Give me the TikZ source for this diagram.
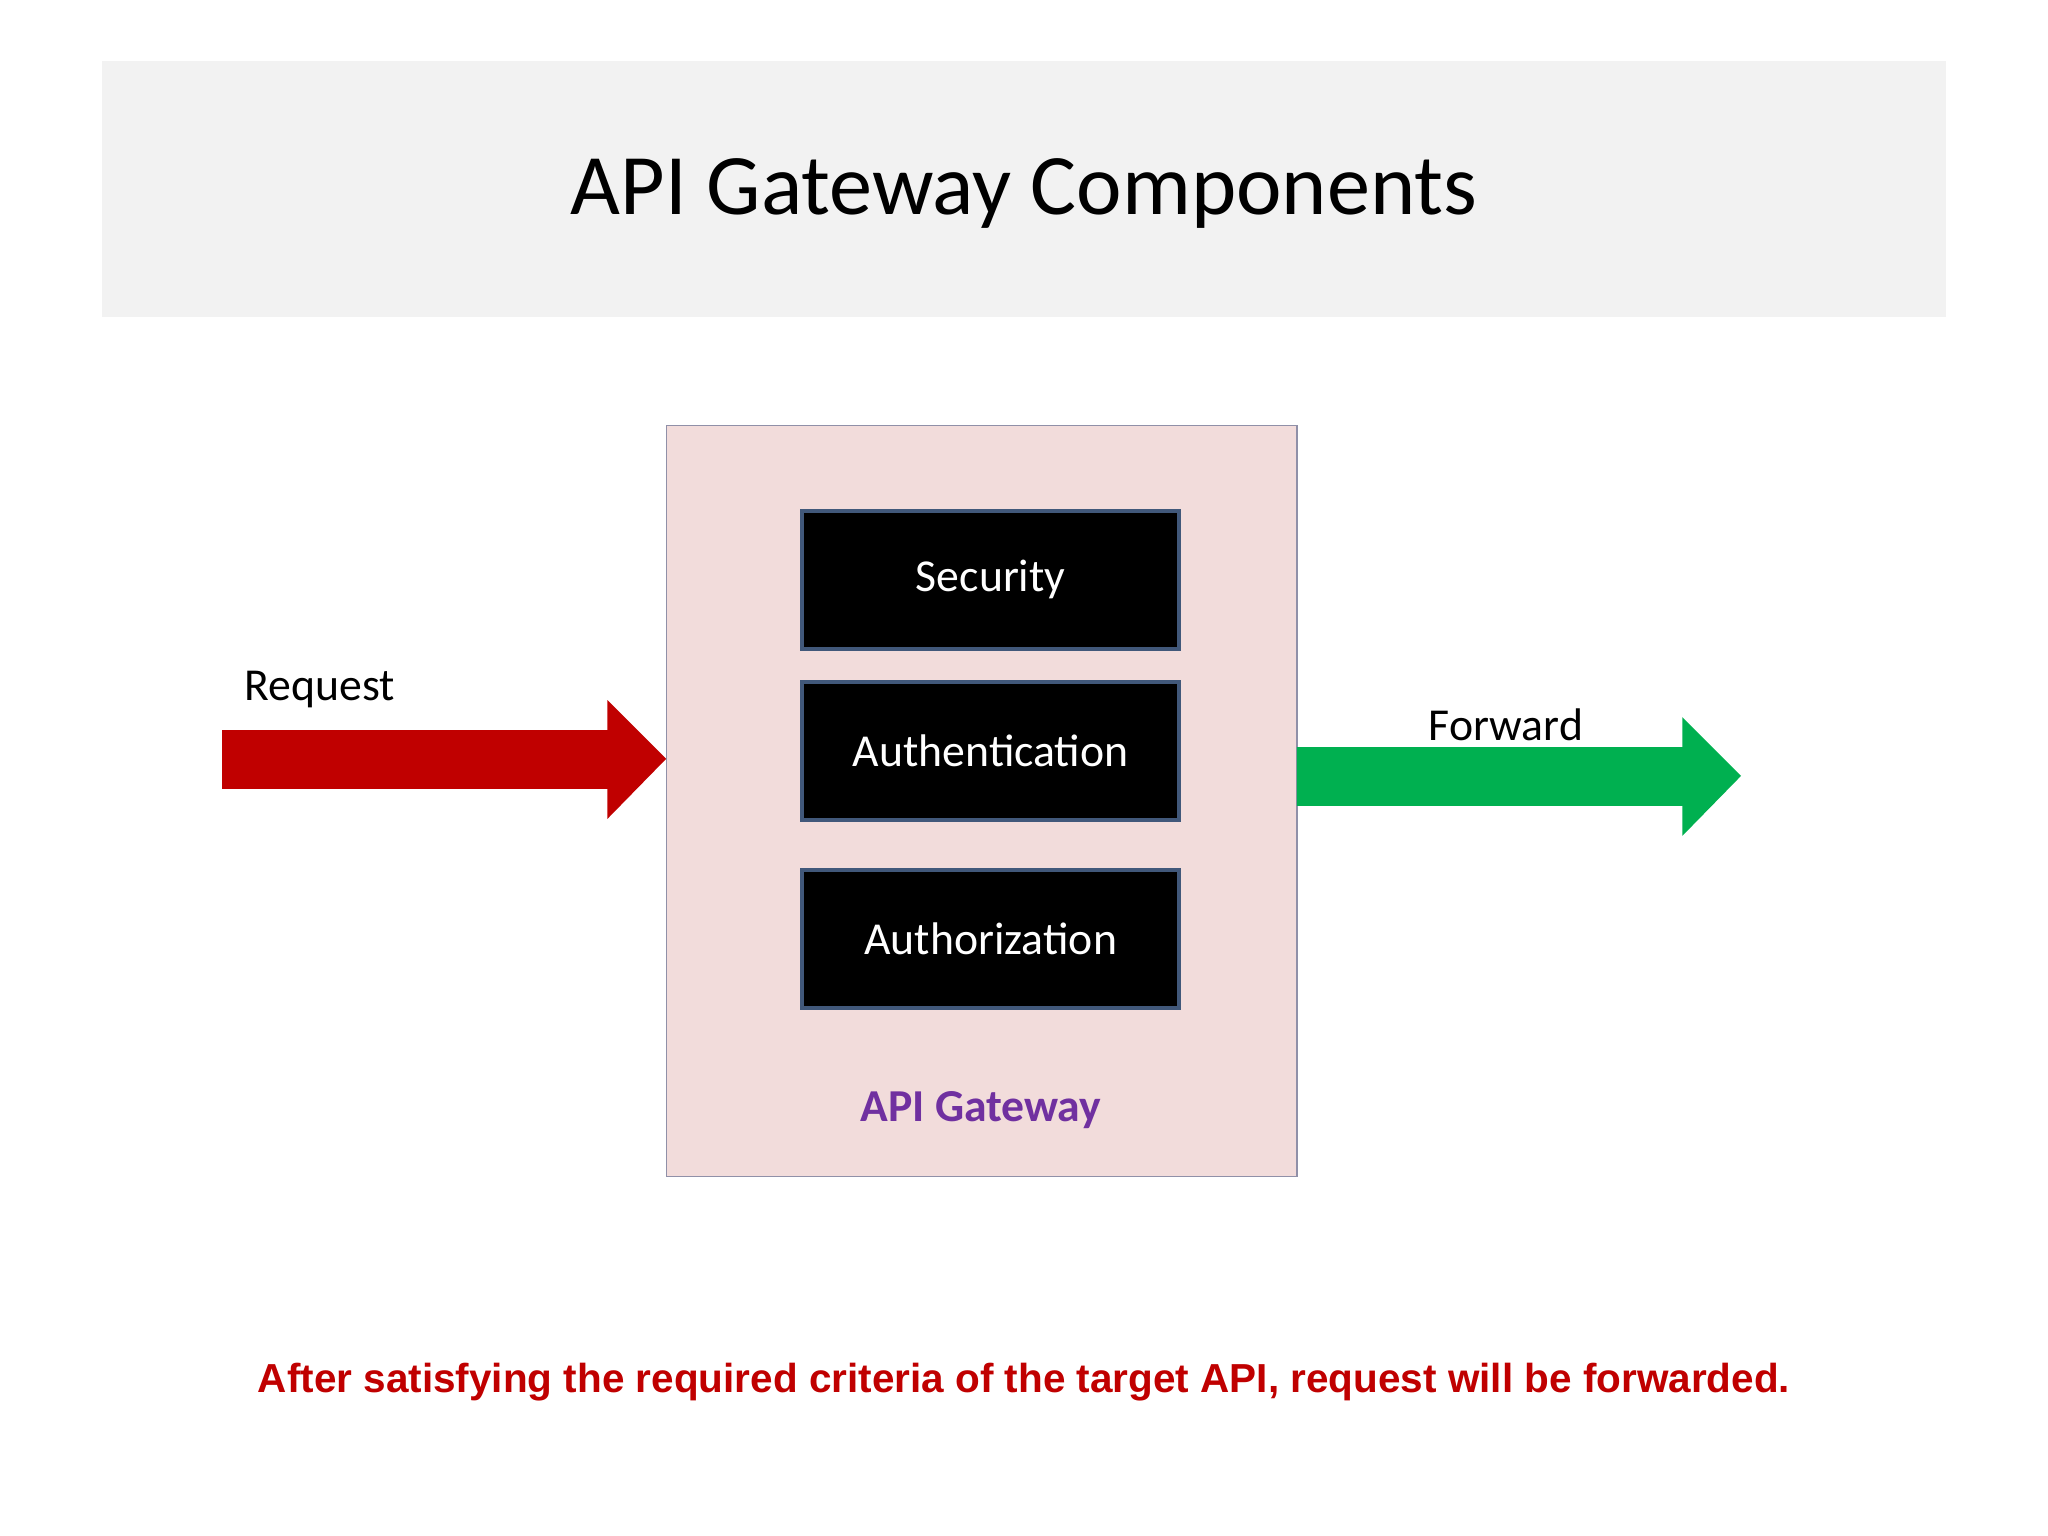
\documentclass[tikz,border=0pt]{standalone}
\usepackage{fontspec}
\setmainfont{Carlito}
\newfontfamily\boldsans{Liberation Sans}
\definecolor{band}{HTML}{F2F2F2}
\definecolor{gw}{HTML}{F2DCDB}
\definecolor{gwline}{HTML}{9090A8}
\definecolor{boxline}{HTML}{41587A}
\definecolor{myred}{HTML}{C00000}
\definecolor{mygreen}{HTML}{00B050}
\definecolor{mypurple}{HTML}{7030A0}
\begin{document}
\begin{tikzpicture}[x=0.5pt,y=-0.5pt,
  comp/.style={draw=boxline,line width=1.5pt,fill=black,text=white,minimum width=144.5pt,minimum height=53pt,font=\fontsize{17.5}{20}\selectfont,inner sep=0pt},
  lbl/.style={font=\fontsize{17.5}{20}\selectfont}]
\useasboundingbox (0,0) rectangle (1568,1176);
\fill[white] (0,0) rectangle (1568,1176);
\fill[band] (78,47) rectangle (1490,243);
\node (title) at (784,148) {\fontsize{33}{38}\selectfont API Gateway Components};
\node[draw=gwline,line width=0.4pt,fill=gw,minimum width=241.5pt,minimum height=287.5pt,inner sep=0pt] (gw) at (751.5,613.5) {};
\node[comp] (sec) at (758.5,444) {Security};
\node[comp] (authn) at (758.5,575) {Authentication};
\node[comp] (authz) at (758.5,719) {Authorization};
\node[font=\bfseries\fontsize{17.5}{20}\selectfont,text=mypurple] (gwl) at (751,850) {API Gateway};
\fill[myred] (170,559) -- (465,559) -- (465,536) -- (510,581) -- (465,627) -- (465,604) -- (170,604) -- cycle;
\node[lbl] (req) at (245,528) {Request};
\fill[mygreen] (993,572) -- (1288,572) -- (1288,549) -- (1333,594) -- (1288,640) -- (1288,617) -- (993,617) -- cycle;
\node[lbl] (fwd) at (1153,555) {Forward};
\node[text=myred,font=\boldsans\bfseries\fontsize{15.5}{18}\selectfont] (note) at (784,1058) {After satisfying the required criteria of the target API, request will be forwarded.};
\end{tikzpicture}
\end{document}
